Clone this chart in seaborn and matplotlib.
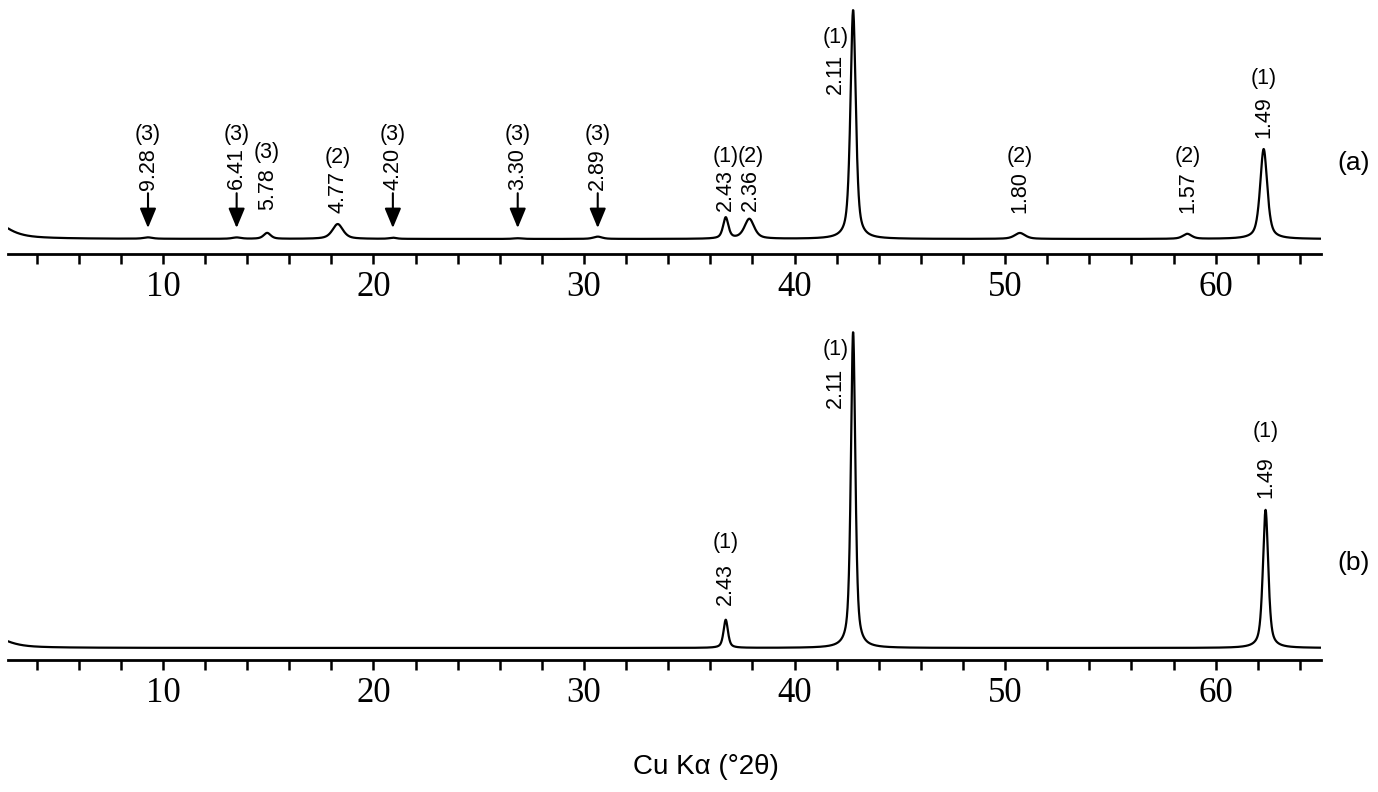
"""
XRD patterns (a) and (b) -- Cu Ka, d-spacings labelled with phase number.
"""
import matplotlib
matplotlib.use("Agg")
import matplotlib.pyplot as plt
from matplotlib.ticker import MultipleLocator
import numpy as np
import pandas as pd
import seaborn as sns

sns.set_theme(style="white")
plt.rcParams["font.family"] = ["Liberation Sans", "DejaVu Sans"]
plt.rcParams["text.color"] = "black"
plt.rcParams["xtick.color"] = "black"
plt.rcParams["xtick.labelcolor"] = "black"

# peaks: 2theta (deg), height (% of the 2.11 A reflection), FWHM (deg)
# first entry is the low-angle background shoulder
A_POS = [1.5, 9.29, 13.5, 14.95, 18.3, 20.92, 26.85, 30.65, 36.73, 37.85, 42.78, 50.7, 58.65, 62.28]
A_HEIGHT = [11.0, 0.6, 0.6, 2.6, 6.5, 0.5, 0.3, 1.0, 9.2, 8.7, 100.0, 2.6, 2.2, 39.3]
A_FWHM = [2.0, 0.5, 0.5, 0.4, 0.6, 0.4, 0.5, 0.5, 0.3, 0.55, 0.3, 0.6, 0.5, 0.4]

B_POS = [1.5, 36.73, 42.78, 62.37]
B_HEIGHT = [5.0, 8.9, 100.0, 43.7]
B_FWHM = [2.0, 0.25, 0.25, 0.3]

# labels: d-spacing (A) and phase
A_D = ["9.28", "6.41", "5.78", "4.77", "4.20", "3.30", "2.89", "2.43", "2.36", "2.11", "1.80", "1.57", "1.49"]
A_PHASE = ["(3)", "(3)", "(3)", "(2)", "(3)", "(3)", "(3)", "(1)", "(2)", "(1)", "(2)", "(2)", "(1)"]
A_ARROW = [True, True, False, False, True, True, True, False, False, False, False, False, False]
B_D = ["2.43", "2.11", "1.49"]
B_PHASE = ["(1)", "(1)", "(1)"]

# label placement (data coords)
A_LAB_X = [9.29, 13.5, 14.95, 18.3, 20.92, 26.85, 30.65, 36.73, 37.9, 41.95, 50.7, 58.67, 62.28]
A_PH_Y = [45.6, 45.6, 37.6, 35.4, 45.6, 45.6, 45.6, 36.2, 36.2, 88.2, 36.2, 36.2, 69.9]
A_D_Y = [30.6, 31.0, 21.8, 20.5, 30.6, 30.6, 30.6, 21.4, 21.4, 72.3, 20.5, 20.5, 53.3]
B_LAB_X = [36.73, 41.93, 62.37]
B_PH_Y = [33.5, 94.3, 68.4]
B_D_Y = [20.3, 82.3, 54.1]

XLIM = (2.64, 65.0)


def pattern(pos, height, fwhm, eta=0.6):
    x = np.linspace(XLIM[0], XLIM[1], 6000)
    y = np.zeros_like(x)
    for c, h, f in zip(pos, height, fwhm):
        u = (x - c) / f
        y += h * (eta / (1 + 4 * u ** 2) + (1 - eta) * np.exp(-4 * np.log(2) * u ** 2))
    return pd.DataFrame({"two_theta": x, "intensity": y})


def style_axis(ax, ylim):
    ax.set_xlim(*XLIM)
    ax.set_ylim(*ylim)
    ax.set_xlabel("")
    ax.set_ylabel("")
    ax.set_yticks([])
    for s in ("left", "right", "top"):
        ax.spines[s].set_visible(False)
    ax.spines["bottom"].set_linewidth(2.0)
    ax.spines["bottom"].set_color("black")
    ax.xaxis.set_major_locator(MultipleLocator(10))
    ax.xaxis.set_minor_locator(MultipleLocator(2))
    ax.tick_params(axis="x", which="both", direction="out", length=7.5, width=1.8,
                   color="black", bottom=True)
    ax.tick_params(axis="x", which="major", pad=5, labelsize=25, labelcolor="black")
    for lab in ax.get_xticklabels():
        lab.set_family("Liberation Serif")
    ax.patch.set_alpha(0)


def label(ax, x, ph_y, d_y, phase, d):
    ax.text(x, ph_y, phase, ha="center", va="center", fontsize=15.5, color="black")
    ax.text(x, d_y, d, ha="center", va="center", rotation=90, fontsize=15.5, color="black")


fig = plt.figure(figsize=(13.78, 7.92), dpi=100)
ax_a = fig.add_axes([0.0058, 0.6793, 0.9528, 0.3207])
ax_b = fig.add_axes([0.0058, 0.1667, 0.9528, 0.4545])

sns.lineplot(data=pattern(A_POS, A_HEIGHT, A_FWHM), x="two_theta", y="intensity",
             ax=ax_a, color="black", lw=1.6)
sns.lineplot(data=pattern(B_POS, B_HEIGHT, B_FWHM), x="two_theta", y="intensity",
             ax=ax_b, color="black", lw=1.6)

style_axis(ax_a, (-6.55, 104.4))
style_axis(ax_b, (-3.8, 110.1))

for x, py, dy, ph, d, arr in zip(A_LAB_X, A_PH_Y, A_D_Y, A_PHASE, A_D, A_ARROW):
    label(ax_a, x, py, dy, ph, d)
    if arr:
        ax_a.annotate("", xy=(x, 4.8), xytext=(x, 20.0),
                      arrowprops=dict(arrowstyle="-|>,head_length=0.6,head_width=0.25",
                                      mutation_scale=20, lw=1.5, color="black",
                                      shrinkA=0, shrinkB=0))

for x, py, dy, ph, d in zip(B_LAB_X, B_PH_Y, B_D_Y, B_PHASE, B_D):
    label(ax_b, x, py, dy, ph, d)

fig.text(1354 / 1378, 1 - 163 / 792, "(a)", ha="center", va="center", fontsize=19, color="black")
fig.text(1354 / 1378, 1 - 563 / 792, "(b)", ha="center", va="center", fontsize=19, color="black")
fig.text(706 / 1378, 1 - 767 / 792, "Cu K\u03b1 (\u00b02\u03b8)", ha="center", va="center",
         fontsize=20, color="black")

fig.savefig("out.png", dpi=100)
